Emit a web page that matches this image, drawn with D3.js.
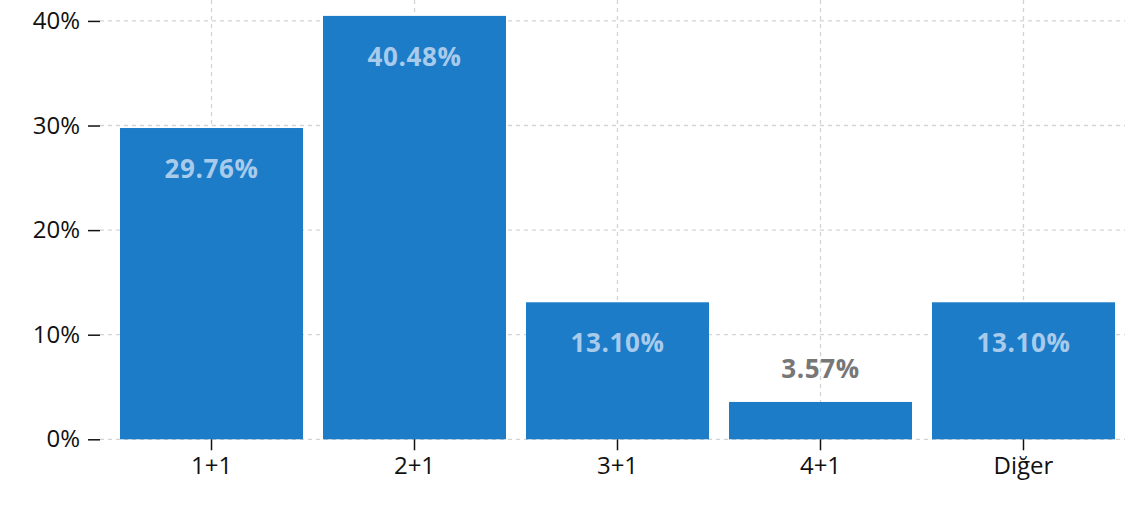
<!DOCTYPE html>
<html>
<head>
<meta charset="utf-8">
<script src="https://cdn.jsdelivr.net/npm/d3@7"></script>
<style>
  body { margin: 0; background: #fff; }
  svg text { font-family: "Open Sans", "Noto Sans", sans-serif; }
</style>
</head>
<body>
<div id="chart"></div>
<script>
// categories and values (fraction of total)
var categories = ["1+1", "2+1", "3+1", "4+1", "Diğer"];
var values = [0.2976, 0.4048, 0.1310, 0.0357, 0.1310];
var yTicks = [0, 0.1, 0.2, 0.3, 0.4];

var width = 1125, height = 520;
var margin = { top: 0, right: 0, bottom: 80.7, left: 110 };
var plotBottom = height - margin.bottom;

var svg = d3.select("#chart").append("svg")
  .attr("width", width)
  .attr("height", height);

var x = d3.scaleBand()
  .domain(categories)
  .range([margin.left, width - margin.right])
  .paddingInner(0.0985)
  .paddingOuter(0.0493);

var y = d3.scaleLinear()
  .domain([0, 0.42])
  .range([plotBottom, margin.top]);

// grid
var grid = svg.append("g").attr("class", "grid");
grid.selectAll(".hgrid")
  .data(yTicks)
  .enter().append("line")
    .attr("x1", 100)
    .attr("x2", width)
    .attr("y1", function(d) { return y(d); })
    .attr("y2", function(d) { return y(d); })
    .attr("stroke", "#d3d3d3")
    .attr("stroke-width", 1.3)
    .attr("stroke-dasharray", "4,4");
grid.selectAll(".vgrid")
  .data(categories)
  .enter().append("line")
    .attr("x1", function(d) { return x(d) + x.bandwidth() / 2; })
    .attr("x2", function(d) { return x(d) + x.bandwidth() / 2; })
    .attr("y1", 0)
    .attr("y2", plotBottom)
    .attr("stroke", "#d3d3d3")
    .attr("stroke-width", 1.3)
    .attr("stroke-dasharray", "4,4");

// bars
svg.selectAll(".bar")
  .data(values)
  .enter().append("rect")
    .attr("class", "bar")
    .attr("x", function(d, i) { return x(categories[i]); })
    .attr("y", function(d) { return y(d); })
    .attr("width", x.bandwidth())
    .attr("height", function(d) { return plotBottom - y(d); })
    .attr("fill", "#1c7cc8");

// value labels
svg.selectAll(".val")
  .data(values)
  .enter().append("text")
    .attr("class", "val")
    .attr("x", function(d, i) { return x(categories[i]) + x.bandwidth() / 2; })
    .attr("y", function(d) {
      var inside = (plotBottom - y(d)) > 60;
      return inside ? y(d) + 50 : y(d) - 24;
    })
    .attr("text-anchor", "middle")
    .style("font-size", "26px")
    .style("font-weight", "bold")
    .style("letter-spacing", "0.6px")
    .attr("fill", function(d) { return (plotBottom - y(d)) > 60 ? "#a9cbeb" : "#777777"; })
    .text(function(d) { return (d * 100).toFixed(2) + "%"; });

// y axis
var yAxis = svg.append("g")
  .attr("transform", "translate(100,0)")
  .call(d3.axisLeft(y).tickValues(yTicks).tickFormat(d3.format(".0%")).tickSize(12).tickPadding(8));
yAxis.select(".domain").remove();
yAxis.selectAll(".tick line").attr("stroke", "#111").attr("stroke-width", 1.5);
yAxis.selectAll(".tick text")
  .style("font-size", "24px")
  .attr("fill", "#111");

// x axis
var xAxis = svg.append("g")
  .attr("transform", "translate(0," + plotBottom + ")")
  .call(d3.axisBottom(x).tickSize(11).tickPadding(7));
xAxis.select(".domain").remove();
xAxis.selectAll(".tick line").attr("stroke", "#111").attr("stroke-width", 1.5);
xAxis.selectAll(".tick text")
  .style("font-size", "24px")
  .attr("fill", "#111");
</script>
</body>
</html>
